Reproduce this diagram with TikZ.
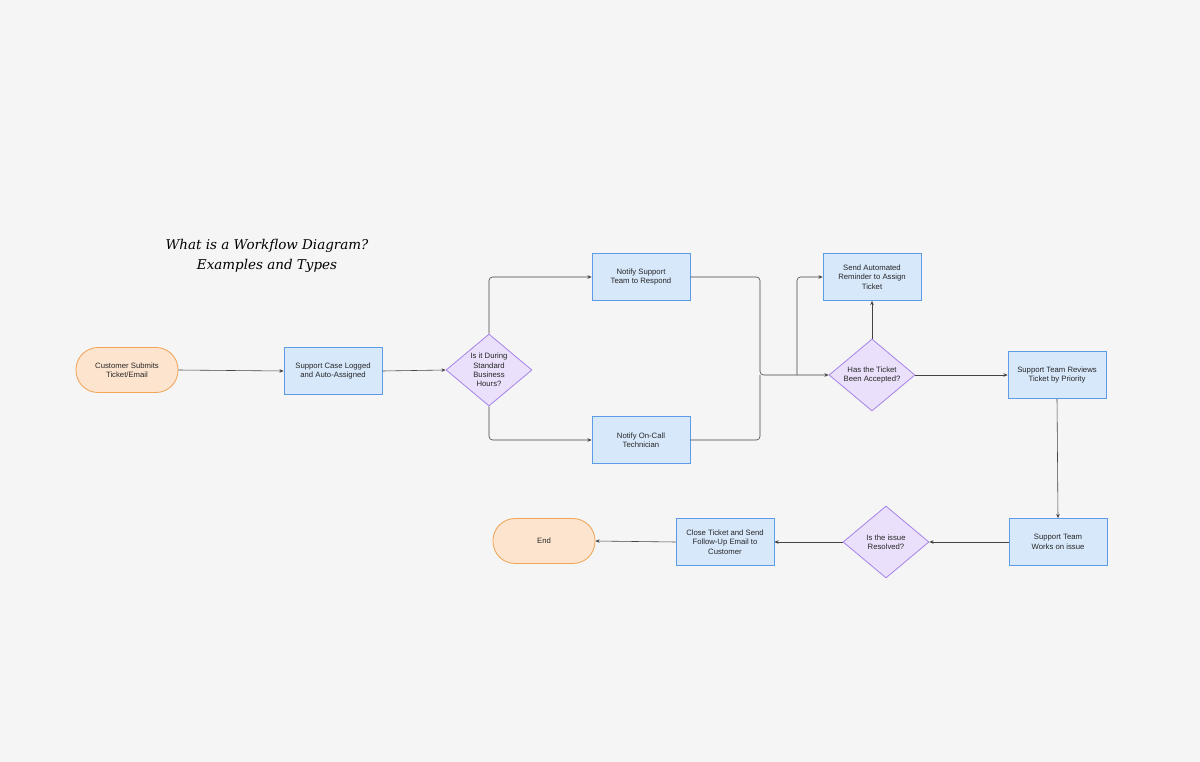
\documentclass[tikz,border=0pt]{standalone}
\usepackage{fontspec}
\setmainfont{Liberation Sans}
\newfontfamily\titlefont{DejaVu Serif}
\usetikzlibrary{shapes.geometric,arrows.meta}
\definecolor{bg}{HTML}{F5F5F5}
\definecolor{boxf}{HTML}{D7E8FB}
\definecolor{boxd}{HTML}{5E9BE6}
\definecolor{diaf}{HTML}{EAE0FB}
\definecolor{diad}{HTML}{A684EA}
\definecolor{terf}{HTML}{FDE4CF}
\definecolor{terd}{HTML}{F0A456}
\definecolor{ln}{HTML}{444444}
\begin{document}
\begin{tikzpicture}[x=0.03cm,y=-0.03cm,
  every node/.style={font=\fontsize{6.6}{8}\selectfont,text=black!85,align=center},
  box/.style={draw=boxd,fill=boxf,line width=0.7pt,minimum width=98*0.03cm,minimum height=47*0.03cm,inner sep=1pt},
  dia/.style={draw=diad,fill=diaf,line width=0.7pt,diamond,minimum width=86*0.03cm,minimum height=72*0.03cm,inner sep=0pt,aspect=1.2},
  ter/.style={draw=terd,fill=terf,line width=0.7pt,rounded corners=22*0.03cm,minimum width=102*0.03cm,minimum height=45*0.03cm},
  ln/.style={draw=ln,line width=0.5pt,rounded corners=3pt},
  ar/.style={ln,-{Stealth[length=3.5pt,width=3pt]}}]
\fill[bg] (0,0) rectangle (1200,762);
\useasboundingbox (0,0) rectangle (1200,762);
\node[font=\titlefont\itshape\fontsize{11.5}{17}\selectfont,text=black] (title) at (267,256) {What is a Workflow Diagram?\\Examples and Types};
\node[ter] (start) at (127,370) {Customer Submits\\Ticket/Email};
\node[box] (log) at (333,371) {Support Case Logged\\and Auto-Assigned};
\node[dia] (d1) at (489,370) {Is it During\\Standard\\Business\\Hours?};
\node[box] (ns) at (641,277) {Notify Support\\Team to Respond};
\node[box] (oc) at (641,440) {Notify On-Call\\Technician};
\node[dia] (d2) at (872,375) {Has the Ticket\\Been Accepted?};
\node[box] (rem) at (872,277) {Send Automated\\Reminder to Assign\\Ticket};
\node[box] (rev) at (1057,375) {Support Team Reviews\\Ticket by Priority};
\node[box] (wk) at (1058,542) {Support Team\\Works on issue};
\node[dia] (d3) at (886,542) {Is the issue\\Resolved?};
\node[box] (cl) at (725,542) {Close Ticket and Send\\Follow-Up Email to\\Customer};
\node[ter] (end) at (544,541) {End};
\coordinate (j) at (760,375);
\coordinate (k) at (797,375);
\draw[ar] (start.east) -- (log.west);
\draw[ar] (log.east) -- (d1.west);
\draw[ar] (d1.north) |- (ns.west);
\draw[ar] (d1.south) |- (oc.west);
\draw[ar] (ns.east) -| (j) -- (d2.west);
\draw[ln] (oc.east) -| (j);
\draw[ar] (k) |- (rem.west);
\draw[ar] (d2.north) -- (rem.south);
\draw[ar] (d2.east) -- (rev.west);
\draw[ar] (rev.south) -- (wk.north);
\draw[ar] (wk.west) -- (d3.east);
\draw[ar] (d3.west) -- (cl.east);
\draw[ar] (cl.west) -- (end.east);
\end{tikzpicture}
\end{document}
